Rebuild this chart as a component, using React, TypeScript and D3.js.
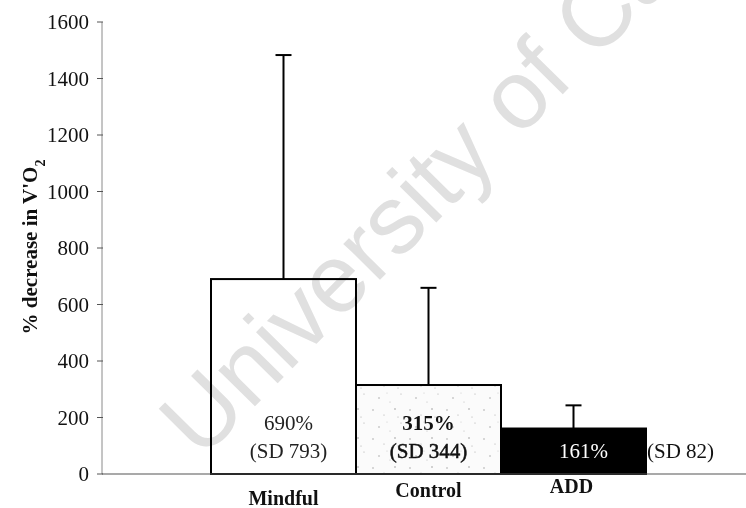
import React from "react";
import * as d3 from "d3";

const categories = ["Mindful", "Control", "ADD"];
const means = [690, 315, 161];
const sds = [793, 344, 82];
const meanLabels = ["690%", "315%", "161%"];
const sdLabels = ["(SD 793)", "(SD 344)", "(SD 82)"];
const yTicks = [0, 200, 400, 600, 800, 1000, 1200, 1400, 1600];

const W = 746;
const H = 508;

export default function App() {
  const y = d3.scaleLinear().domain([0, 1600]).range([474, 22]);
  const x = d3.scaleBand().domain(categories).range([211, 646]).paddingInner(0).paddingOuter(0);
  const serif = "'Liberation Serif', 'Times New Roman', serif";
  const fills = ["#ffffff", "url(#speckle)", "#000000"];
  const catLabelDy = [24, 16, 12];
  const labelColors = ["#222", "#111", "#fff"];
  const fs = 21;
  return (
    <svg width={W} height={H} style={{ position: "absolute", left: 0, top: 0, background: "#fff" }}>
      <defs>
        <pattern id="speckle" width="37" height="29" patternUnits="userSpaceOnUse">
          <rect width="37" height="29" fill="#fbfbfb" />
          <circle cx="3" cy="4" r="0.7" fill="#999" />
          <circle cx="14" cy="9" r="0.6" fill="#aaa" />
          <circle cx="25" cy="3" r="0.7" fill="#888" />
          <circle cx="31" cy="17" r="0.6" fill="#aaa" />
          <circle cx="9" cy="21" r="0.7" fill="#999" />
          <circle cx="20" cy="25" r="0.6" fill="#bbb" />
          <circle cx="28" cy="11" r="0.5" fill="#999" />
          <circle cx="17" cy="16" r="0.6" fill="#ccc" />
        </pattern>
      </defs>
      {/* y axis */}
      <line x1={102} x2={102} y1={y(1600)} y2={y(0)} stroke="#8a8a8a" strokeWidth={1} />
      {yTicks.map((t) => (
        <g key={t}>
          <line x1={97} x2={103} y1={y(t)} y2={y(t)} stroke="#555" strokeWidth={1} />
          <text x={89} y={y(t)} dy="0.35em" textAnchor="end" fontFamily={serif} fontSize={fs} fill="#111">
            {t}
          </text>
        </g>
      ))}
      <text
        transform={`translate(37,${247}) rotate(-90)`}
        textAnchor="middle"
        fontFamily={serif}
        fontSize={21}
        fontWeight="bold"
        fill="#111"
      >
        % decrease in V'O
        <tspan baselineShift="sub" fontSize={14}>2</tspan>
      </text>
      {/* bars */}
      {categories.map((c, i) => (
        <rect
          key={c}
          x={x(c)!}
          y={y(means[i])}
          width={x.bandwidth()}
          height={y(0) - y(means[i])}
          fill={fills[i]}
          stroke="#000"
          strokeWidth={2}
        />
      ))}
      {/* error bars */}
      {categories.map((c, i) => {
        const cx = x(c)! + x.bandwidth() / 2;
        return (
          <g key={c} stroke="#000" strokeWidth={2}>
            <line x1={cx} x2={cx} y1={y(means[i])} y2={y(means[i] + sds[i])} />
            <line x1={cx - 8} x2={cx + 8} y1={y(means[i] + sds[i])} y2={y(means[i] + sds[i])} />
          </g>
        );
      })}
      {/* x axis */}
      <line x1={102} x2={746} y1={y(0)} y2={y(0)} stroke="#555" strokeWidth={1.2} />
      {/* bar labels */}
      <text x={x("Mindful")! + x.bandwidth() / 2 + 5} y={423} dy="0.35em" textAnchor="middle" fontFamily={serif} fontSize={fs} fill={labelColors[0]}>
        {meanLabels[0]}
      </text>
      <text x={x("Mindful")! + x.bandwidth() / 2 + 5} y={451} dy="0.35em" textAnchor="middle" fontFamily={serif} fontSize={fs} fill={labelColors[0]}>
        {sdLabels[0]}
      </text>
      <text x={x("Control")! + x.bandwidth() / 2} y={423} dy="0.35em" textAnchor="middle" fontFamily={serif} fontSize={fs} fontWeight="bold" fill={labelColors[1]}>
        {meanLabels[1]}
      </text>
      <text x={x("Control")! + x.bandwidth() / 2} y={451} dy="0.35em" textAnchor="middle" fontFamily={serif} fontSize={fs} fill={labelColors[1]} stroke="#111" strokeWidth={0.5}>
        {sdLabels[1]}
      </text>
      <text x={x("ADD")! + x.bandwidth() / 2 + 10} y={451} dy="0.35em" textAnchor="middle" fontFamily={serif} fontSize={fs} fill={labelColors[2]}>
        {meanLabels[2]}
      </text>
      <text x={647} y={451} dy="0.35em" textAnchor="start" fontFamily={serif} fontSize={fs} fill="#111">
        {sdLabels[2]}
      </text>
      {/* category labels */}
      {categories.map((c, i) => (
        <text
          key={c}
          x={x(c)! + x.bandwidth() / 2 + (i === 2 ? -2 : 0)}
          y={y(0) + catLabelDy[i]}
          dy="0.35em"
          textAnchor="middle"
          fontFamily={serif}
          fontSize={20}
          fontWeight="bold"
          fill="#111"
        >
          {c}
        </text>
      ))}
      {/* watermark */}
      <text
        transform="translate(201,461) rotate(-45.4)"
        fontFamily="'Liberation Sans', Arial, sans-serif"
        fontSize={97}
        fill="#e0e0e0"
        style={{ mixBlendMode: "multiply" }}
      >
        University of Cape Town
      </text>
    </svg>
  );
}
